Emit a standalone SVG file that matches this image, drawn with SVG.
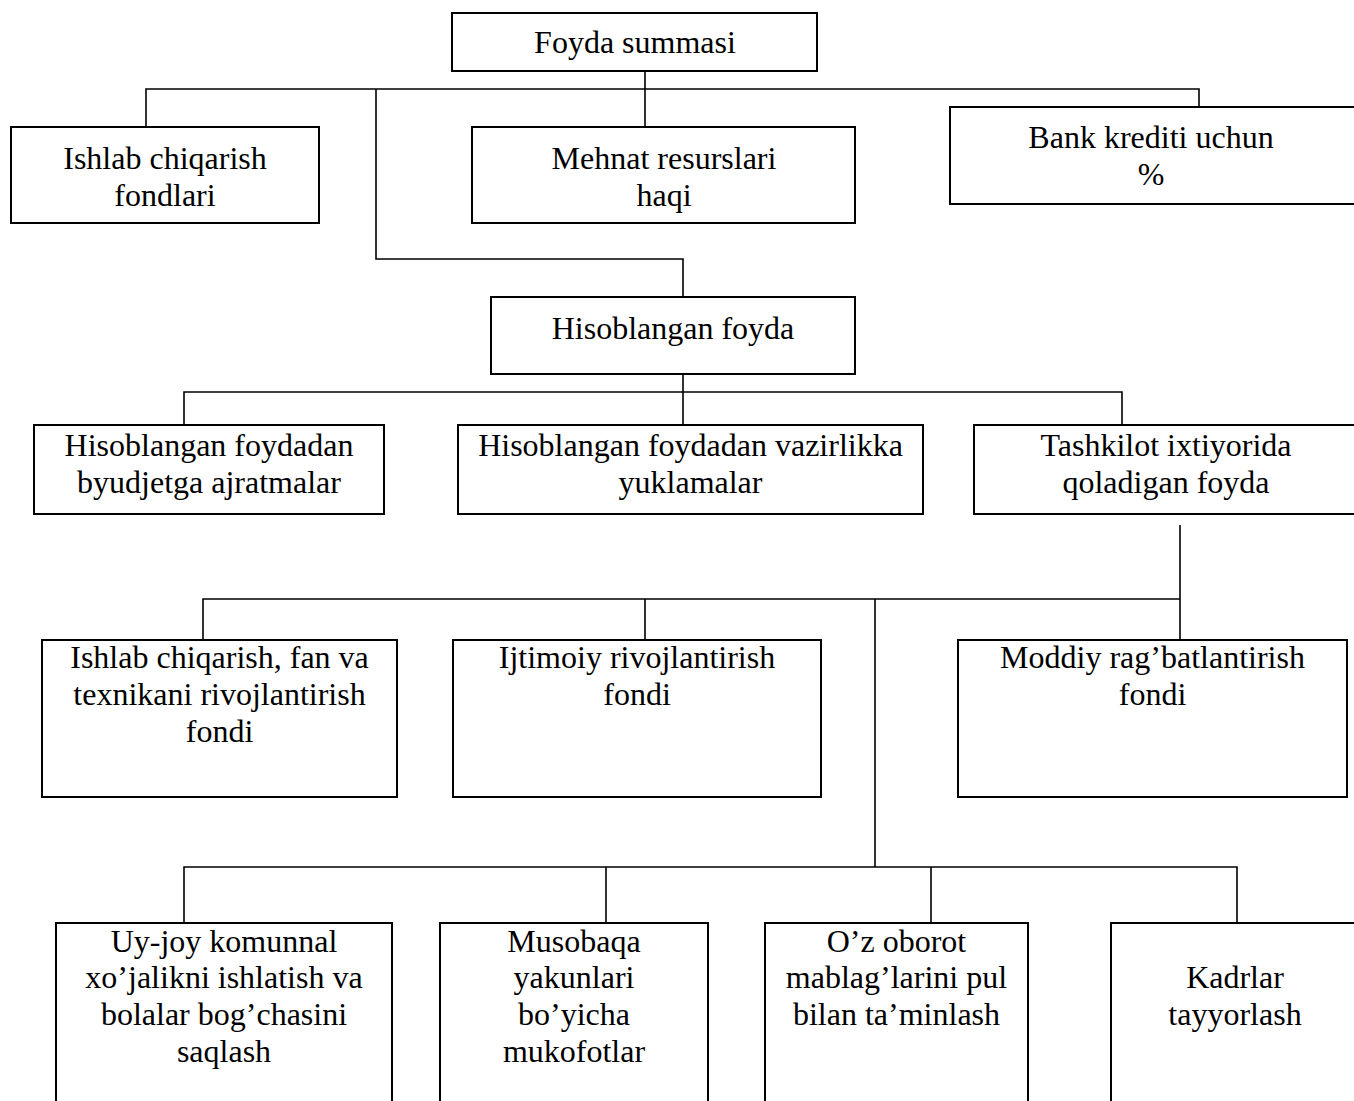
<svg xmlns="http://www.w3.org/2000/svg" width="1354" height="1101" viewBox="0 0 1354 1101">
<style>
.box{fill:#fff;stroke:#000;stroke-width:2}
.t{font-family:"Liberation Serif","Times New Roman",serif;font-size:32px;fill:#000;text-anchor:middle}
.c{fill:none;stroke:#000;stroke-width:1.6}
</style>
<rect width="1354" height="1101" fill="#fff"/>
<g id="connectors">
<path class="c" d="M645 71V127M146 127V89H1199V108M376 89V259H683V297"/>
<path class="c" d="M683 374V425M184 425V392H1122V425"/>
<path class="c" d="M1180 525V640M203 640V599H1180M645 599V640M875 599V867"/>
<path class="c" d="M184 923V867H1237V923M606 867V923M931 867V923"/>
</g>
<g id="n-foyda-summasi"><rect class="box" x="452" y="13" width="365" height="58"/><text class="t" x="635" y="53">Foyda summasi</text></g>
<g id="n-ishlab-fondlari"><rect class="box" x="11" y="127" width="308" height="96"/><text class="t" x="165" y="169">Ishlab chiqarish</text><text class="t" x="165" y="206">fondlari</text></g>
<g id="n-mehnat"><rect class="box" x="472" y="127" width="383" height="96"/><text class="t" x="664" y="169">Mehnat resurslari</text><text class="t" x="664" y="206">haqi</text></g>
<g id="n-bank"><rect class="box" x="950" y="107" width="420" height="97"/><text class="t" x="1151" y="148">Bank krediti uchun</text><text class="t" x="1151" y="185">%</text></g>
<g id="n-hisoblangan"><rect class="box" x="491" y="297" width="364" height="77"/><text class="t" x="673" y="339">Hisoblangan foyda</text></g>
<g id="n-byudjet"><rect class="box" x="34" y="425" width="350" height="89"/><text class="t" x="209" y="456">Hisoblangan foydadan</text><text class="t" x="209" y="493">byudjetga ajratmalar</text></g>
<g id="n-vazirlik"><rect class="box" x="458" y="425" width="465" height="89"/><text class="t" x="690.5" y="456">Hisoblangan foydadan vazirlikka</text><text class="t" x="690.5" y="493">yuklamalar</text></g>
<g id="n-tashkilot"><rect class="box" x="974" y="425" width="400" height="89"/><text class="t" x="1166" y="456">Tashkilot ixtiyorida</text><text class="t" x="1166" y="493">qoladigan foyda</text></g>
<g id="n-fan-texnika"><rect class="box" x="42" y="640" width="355" height="157"/><text class="t" x="219.5" y="668">Ishlab chiqarish, fan va</text><text class="t" x="219.5" y="705">texnikani rivojlantirish</text><text class="t" x="219.5" y="742">fondi</text></g>
<g id="n-ijtimoiy"><rect class="box" x="453" y="640" width="368" height="157"/><text class="t" x="637" y="668">Ijtimoiy rivojlantirish</text><text class="t" x="637" y="705">fondi</text></g>
<g id="n-moddiy"><rect class="box" x="958" y="640" width="389" height="157"/><text class="t" x="1152.5" y="668">Moddiy rag’batlantirish</text><text class="t" x="1152.5" y="705">fondi</text></g>
<g id="n-uyjoy"><rect class="box" x="56" y="923" width="336" height="200"/><text class="t" x="224" y="952">Uy-joy komunnal</text><text class="t" x="224" y="988">xo’jalikni ishlatish va</text><text class="t" x="224" y="1025">bolalar bog’chasini</text><text class="t" x="224" y="1062">saqlash</text></g>
<g id="n-musobaqa"><rect class="box" x="440" y="923" width="268" height="200"/><text class="t" x="574" y="952">Musobaqa</text><text class="t" x="574" y="988">yakunlari</text><text class="t" x="574" y="1025">bo’yicha</text><text class="t" x="574" y="1062">mukofotlar</text></g>
<g id="n-oborot"><rect class="box" x="765" y="923" width="263" height="200"/><text class="t" x="896.5" y="952">O’z oborot</text><text class="t" x="896.5" y="988">mablag’larini pul</text><text class="t" x="896.5" y="1025">bilan ta’minlash</text></g>
<g id="n-kadrlar"><rect class="box" x="1111" y="923" width="280" height="200"/><text class="t" x="1235" y="988">Kadrlar</text><text class="t" x="1235" y="1025">tayyorlash</text></g>
</svg>
